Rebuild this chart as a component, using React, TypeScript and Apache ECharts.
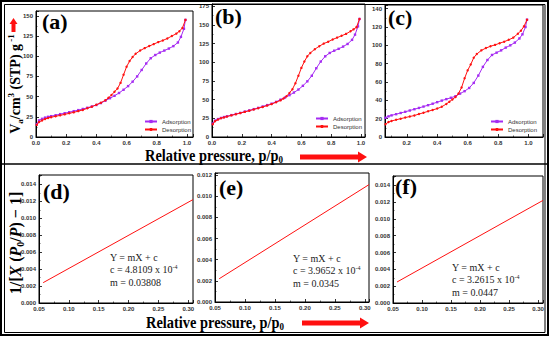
import React, { useEffect, useRef } from 'react';
import * as echarts from 'echarts';

// ---------- data ----------
const adsP = [0.005, 0.02, 0.04, 0.06, 0.08, 0.1, 0.13, 0.16, 0.19, 0.22, 0.25, 0.28, 0.31, 0.34, 0.37, 0.4, 0.43, 0.46, 0.49, 0.52, 0.55, 0.58, 0.61, 0.64, 0.67, 0.7, 0.73, 0.76, 0.79, 0.82, 0.85, 0.88, 0.91, 0.94, 0.96, 0.98, 0.99];
const desP = [0.99, 0.97, 0.95, 0.93, 0.9, 0.87, 0.84, 0.81, 0.78, 0.75, 0.72, 0.69, 0.66, 0.64, 0.62, 0.6, 0.58, 0.56, 0.54, 0.52, 0.5, 0.48, 0.46, 0.43, 0.4, 0.37, 0.34, 0.31, 0.28, 0.25, 0.22, 0.19, 0.16, 0.13, 0.1, 0.08, 0.06, 0.04, 0.02, 0.005];
const adsPc = [0.06, 0.08, 0.1, 0.13, 0.16, 0.19, 0.22, 0.25, 0.28, 0.31, 0.34, 0.37, 0.4, 0.43, 0.46, 0.49, 0.52, 0.55, 0.58, 0.61, 0.64, 0.67, 0.7, 0.73, 0.76, 0.79, 0.82, 0.85, 0.88, 0.91, 0.94, 0.96, 0.98, 0.99];
const desPc = [0.99, 0.97, 0.95, 0.93, 0.9, 0.87, 0.84, 0.81, 0.78, 0.75, 0.72, 0.69, 0.66, 0.64, 0.62, 0.6, 0.58, 0.56, 0.54, 0.52, 0.5, 0.48, 0.46, 0.43, 0.4, 0.37, 0.34, 0.31, 0.28, 0.25, 0.22, 0.19, 0.16, 0.13, 0.1, 0.08, 0.06];

const aAds = [16, 20.5, 22.5, 24, 25, 25.8, 27, 28.3, 29.5, 30.7, 32, 33.3, 34.7, 36.2, 37.8, 39.6, 42, 45, 48, 51, 54.5, 58.5, 63, 68.5, 75, 83, 91, 97.5, 101.5, 104.5, 107, 109.5, 112.5, 117, 124, 134, 145];
const aDes = [145, 135, 131, 128, 125, 122, 119.5, 117.5, 115, 112.6, 110, 107, 103, 99, 94, 87, 77, 67, 60, 56, 52, 48.5, 45.5, 42.5, 40, 37.5, 35.5, 33.5, 32, 30.5, 29.3, 28, 26.8, 25.6, 24.5, 23.5, 22.3, 20.5, 18.5, 15];
const bAds = [18, 22, 24, 25.5, 26.7, 27.7, 29.3, 30.8, 32.3, 34, 35.6, 37.3, 39, 40.8, 42.7, 44.6, 47, 50, 52.8, 56, 59.5, 63.5, 68.5, 74.5, 82, 92, 101, 108, 112.5, 115.5, 118, 121, 124.5, 130, 137, 148, 158];
const bDes = [158, 147, 144, 141.5, 138, 135.5, 133, 130.5, 127.5, 125, 121.5, 117.5, 112.5, 108, 101, 92.5, 82, 72, 64, 59, 54.5, 51.5, 49, 46.5, 44, 42, 40.2, 38.5, 36.8, 35.2, 33.6, 32, 30.4, 28.9, 27.3, 26.2, 25, 23.3, 21, 17];
const cAds = [21, 22.5, 23.6, 24.9, 26.2, 27.5, 28.9, 30.3, 31.7, 33.2, 34.7, 36.3, 38, 39.7, 41.3, 42.8, 44.5, 47.3, 50, 53.5, 59, 67, 76.5, 84, 89.5, 92, 94.5, 97.5, 100, 103, 107.5, 112, 120, 128];
const cDes = [128, 120.7, 116, 112.7, 108.4, 106, 104, 102.3, 100.5, 99, 97, 94.5, 90.5, 86.5, 79, 72.7, 64, 54, 47.5, 43.6, 41, 38.5, 36, 33, 31, 29.5, 28, 26.5, 25, 23.5, 22.3, 21.2, 20, 18.8, 17.5, 16.3, 14];

const betPd = [0.057, 0.308];
const betVd = [0.0024, 0.0122];
const betPe = [0.057, 0.307];
const betVe = [0.0022, 0.0111];
const betPf = [0.057, 0.3086];
const betVf = [0.0025, 0.0122];

const eqD = ['Y = mX + c', '4.8109', 'm = 0.03808'];
const eqE = ['Y = mX + c', '3.9652', 'm = 0.0345'];
const eqF = ['Y = mX + c', '3.2615', 'm = 0.0447'];
const panelLabels = ['(a)', '(b)', '(c)', '(d)', '(e)', '(f)'];
const seriesNames = ['Adsorption', 'Desorption'];

const PURPLE = '#a52cf2';
const RED = '#ff1010';

const zip = (xs: number[], ys: number[]) => xs.map((x, i) => [x, ys[i]]);

const fmt = (interval: number, digits: number) => (v: number) => {
  const k = v / interval;
  return Math.abs(k - Math.round(k)) < 1e-6 ? v.toFixed(digits) : '';
};

const axisBase = (gridIndex: number) => ({
  gridIndex,
  type: 'value',
  axisLine: { show: true, onZero: false, lineStyle: { color: '#000', width: 1 } },
  axisTick: { show: true, inside: true, length: 3, lineStyle: { color: '#000', width: 0.8 } },
  minorTick: { show: true, splitNumber: 2, length: 1.5, lineStyle: { color: '#000', width: 0.6 } },
  splitLine: { show: false },
  minorSplitLine: { show: false },
});

const labelStyle = { fontSize: 6, fontWeight: 'bold', color: '#333', fontFamily: 'Liberation Sans', margin: 3 };

export default function App() {
  const ref = useRef<HTMLDivElement>(null);
  useEffect(() => {
    if (!ref.current) return;
    const chart = echarts.init(ref.current, null, { renderer: 'svg' });

    const grids = [
      { left: 36, top: 11, width: 157, height: 126 },
      { left: 212, top: 4, width: 153, height: 133 },
      { left: 385, top: 5, width: 158, height: 132 },
      { left: 39, top: 175, width: 154, height: 128 },
      { left: 215, top: 173, width: 154, height: 129 },
      { left: 393, top: 176, width: 150, height: 127 },
    ].map((g) => ({ ...g, show: true, borderColor: '#000', borderWidth: 1, backgroundColor: 'transparent', outerBoundsMode: 'none', containLabel: false }));

    const xAxes: any[] = [
      { ...axisBase(0), min: 0, max: 1.04, interval: 0.2, axisLabel: { ...labelStyle, formatter: fmt(0.2, 1) } },
      { ...axisBase(1), min: 0, max: 1.027, interval: 0.2, axisLabel: { ...labelStyle, formatter: fmt(0.2, 1) } },
      { ...axisBase(2), min: 0.057, max: 1.095, splitNumber: 5, axisLabel: { ...labelStyle, showMinLabel: false, showMaxLabel: false, formatter: fmt(0.2, 1) } },
      { ...axisBase(3), min: 0.05, max: 0.308, interval: 0.05, axisLabel: { ...labelStyle, formatter: fmt(0.05, 2) } },
      { ...axisBase(4), min: 0.05, max: 0.307, interval: 0.05, axisLabel: { ...labelStyle, formatter: fmt(0.05, 2) } },
      { ...axisBase(5), min: 0.05, max: 0.3086, interval: 0.05, axisLabel: { ...labelStyle, formatter: fmt(0.05, 2) } },
    ];
    const yAxes: any[] = [
      { ...axisBase(0), min: 0, max: 156, interval: 25, axisLabel: { ...labelStyle, formatter: fmt(25, 0) } },
      { ...axisBase(1), min: 0, max: 178, interval: 25, axisLabel: { ...labelStyle, formatter: fmt(25, 0) } },
      { ...axisBase(2), min: 0, max: 144, interval: 20, axisLabel: { ...labelStyle, formatter: fmt(20, 0) } },
      { ...axisBase(3), min: 0, max: 0.0151, interval: 0.002, axisLabel: { ...labelStyle, formatter: fmt(0.002, 3) } },
      { ...axisBase(4), min: 0, max: 0.0122, interval: 0.002, axisLabel: { ...labelStyle, formatter: fmt(0.002, 3) } },
      { ...axisBase(5), min: 0, max: 0.0151, interval: 0.002, axisLabel: { ...labelStyle, formatter: fmt(0.002, 3) } },
    ];

    const iso = (name: string, idx: number, data: number[][], color: string, symbol: string) => ({
      name,
      type: 'line',
      xAxisIndex: idx,
      yAxisIndex: idx,
      data,
      symbol,
      symbolSize: 2.4,
      showSymbol: true,
      lineStyle: { color, width: 1 },
      itemStyle: { color },
      z: name === 'Desorption' ? 3 : 2,
    });
    const bet = (idx: number, data: number[][]) => ({
      type: 'line',
      xAxisIndex: idx,
      yAxisIndex: idx,
      data,
      symbol: 'none',
      lineStyle: { color: RED, width: 1 },
    });

    const series: any[] = [
      iso(seriesNames[0], 0, zip(adsP, aAds), PURPLE, 'rect'),
      iso(seriesNames[1], 0, zip(desP, aDes), RED, 'circle'),
      iso(seriesNames[0], 1, zip(adsP, bAds), PURPLE, 'rect'),
      iso(seriesNames[1], 1, zip(desP, bDes), RED, 'circle'),
      iso(seriesNames[0], 2, zip(adsPc, cAds), PURPLE, 'rect'),
      iso(seriesNames[1], 2, zip(desPc, cDes), RED, 'circle'),
      bet(3, zip(betPd, betVd)),
      bet(4, zip(betPe, betVe)),
      bet(5, zip(betPf, betVf)),
    ];

    const legendBase = {
      orient: 'vertical',
      itemWidth: 12,
      itemHeight: 4,
      itemGap: 1,
      padding: 0,
      selectedMode: false,
      data: seriesNames,
      textStyle: { fontSize: 6, color: '#333', fontFamily: 'Liberation Sans', lineHeight: 7 },
    };
    const legends = [
      { ...legendBase, left: 144, top: 118 },
      { ...legendBase, left: 315, top: 115 },
      { ...legendBase, left: 490, top: 118 },
    ];

    const serif = 'Liberation Serif';
    const labelPos = [
      [42, 10], [215, 5], [388, 6], [43, 180], [219, 176], [395, 175],
    ];
    const panelText = panelLabels.map((t, i) => ({
      type: 'text',
      x: labelPos[i][0],
      y: labelPos[i][1],
      style: { text: t, fontSize: 22, fontWeight: 'bold', fontFamily: serif, fill: '#000', verticalAlign: 'top' },
      z: 10,
    }));

    const eqText = (eq: string[], x: number, y0: number) => {
      const base = { fontSize: 10, fontFamily: serif, fill: '#222' };
      return [
        { type: 'text', x, y: y0, style: { ...base, text: eq[0], verticalAlign: 'middle' }, z: 10 },
        {
          type: 'text', x, y: y0 + 12.5,
          style: {
            ...base, text: `{n|c = ${eq[1]} x 10}{s|-4}`, verticalAlign: 'middle',
            rich: { n: { ...base, lineHeight: 12 }, s: { fontSize: 6, fontFamily: serif, fill: '#222', verticalAlign: 'top', lineHeight: 12 } },
          },
          z: 10,
        },
        { type: 'text', x, y: y0 + 25, style: { ...base, text: eq[2], verticalAlign: 'middle' }, z: 10 },
      ];
    };

    const bold = { fontFamily: serif, fontWeight: 'bold', fill: '#000' };
    const xTitle = (x: number, y: number) => ({
      type: 'text', x, y, scaleX: 0.9,
      style: {
        text: '{t|Relative pressure, p/p}{s|0}', align: 'center', verticalAlign: 'middle',
        rich: { t: { ...bold, fontSize: 16, lineHeight: 20 }, s: { ...bold, fontSize: 10, lineHeight: 20, verticalAlign: 'bottom' } },
      },
      z: 10,
    });

    const graphic: any[] = [
      { type: 'rect', shape: { x: 1, y: 1, width: 547, height: 334 }, style: { fill: 'none', stroke: '#000', lineWidth: 2 }, z: 20 },
      { type: 'rect', shape: { x: 4.5, y: 4.5, width: 540.5, height: 328 }, style: { fill: 'none', stroke: '#000', lineWidth: 1 }, z: 20 },
      { type: 'line', shape: { x1: 2, y1: 164, x2: 548, y2: 164 }, style: { stroke: '#000', lineWidth: 1.5 }, z: 1 },
      ...panelText,
      ...eqText(eqD, 110, 257),
      ...eqText(eqE, 293, 258),
      ...eqText(eqF, 452, 267),
      xTitle(214, 155),
      xTitle(215, 322),
      {
        type: 'text', x: 15, y: 84, rotation: Math.PI / 2,
        style: {
          text: '{b|V}{sub|a}{b|/cm}{sup|3}{b| (STP) g}{sup| -1}', align: 'center', verticalAlign: 'middle',
          rich: {
            b: { ...bold, fontSize: 14, lineHeight: 18 },
            sub: { ...bold, fontSize: 9, lineHeight: 18, verticalAlign: 'bottom' },
            sup: { ...bold, fontSize: 9, lineHeight: 18, verticalAlign: 'top' },
          },
        },
        z: 10,
      },
      {
        type: 'text', x: 15, y: 243, rotation: Math.PI / 2,
        style: {
          text: '{b|1/[}{i|X}{b| (}{i|P}{sub|0}{b|/}{i|P}{b|) \u2212 1]}', align: 'center', verticalAlign: 'middle',
          rich: {
            b: { ...bold, fontSize: 16, lineHeight: 20 },
            i: { ...bold, fontStyle: 'italic', fontSize: 16, lineHeight: 20 },
            sub: { ...bold, fontSize: 10, lineHeight: 20, verticalAlign: 'bottom' },
          },
        },
        z: 10,
      },
      { type: 'polygon', shape: { points: [[11.5, 32], [11.5, 24], [9.5, 24], [13.5, 18], [17.5, 24], [15.5, 24], [15.5, 32]] }, style: { fill: RED }, z: 10 },
      { type: 'polygon', shape: { points: [[300, 154.5], [358, 154.5], [358, 151.5], [367, 157], [358, 162.5], [358, 159.5], [300, 159.5]] }, style: { fill: RED }, z: 10 },
      { type: 'polygon', shape: { points: [[302, 320.5], [360, 320.5], [360, 317.5], [369, 323], [360, 328.5], [360, 325.5], [302, 325.5]] }, style: { fill: RED }, z: 10 },
    ];

    chart.setOption({
      animation: false,
      backgroundColor: '#fff',
      grid: grids,
      xAxis: xAxes,
      yAxis: yAxes,
      legend: legends,
      series,
      graphic,
    });
    return () => chart.dispose();
  }, []);

  return <div ref={ref} style={{ position: 'absolute', left: 0, top: 0, width: 550, height: 337, background: '#fff' }} />;
}
